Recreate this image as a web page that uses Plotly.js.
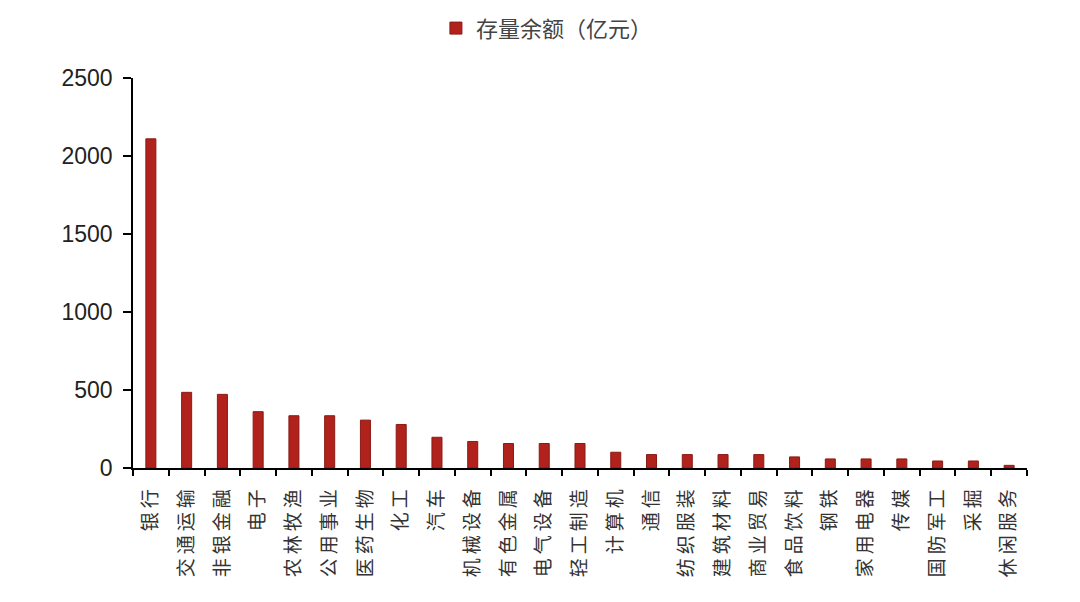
<!DOCTYPE html>
<html>
<head>
<meta charset="utf-8">
<script src="https://cdn.plot.ly/plotly-3.0.1.min.js"></script>
<style>
  html, body { margin: 0; padding: 0; background: #fff; }
  #chart { width: 1080px; height: 602px; }
  /* 原图中文字间距较宽 */
  #chart .xtick text { letter-spacing: 4px; }
</style>
</head>
<body>
<div id="chart"></div>
<script>
// 各行业存量余额（亿元）
const industries = ["银行", "交通运输", "非银金融", "电子", "农林牧渔", "公用事业", "医药生物", "化工", "汽车",
  "机械设备", "有色金属", "电气设备", "轻工制造", "计算机", "通信", "纺织服装", "建筑材料", "商业贸易",
  "食品饮料", "钢铁", "家用电器", "传媒", "国防军工", "采掘", "休闲服务"];
const balance = [2110, 485, 472, 361, 335, 335, 307, 279, 197,
  170, 157, 157, 157, 101, 86, 86, 86, 86,
  71, 58, 58, 58, 45, 45, 17];
const seriesName = "存量余额（亿元）";

const trace = {
  x: industries,
  y: balance,
  type: "bar",
  name: seriesName,
  marker: { color: "#B0221B", line: { color: "#8A1A14", width: 1 } },
  hoverinfo: "x+y"
};

const layout = {
  width: 1080,
  height: 602,
  margin: { l: 133, r: 53, t: 78, b: 134 },
  paper_bgcolor: "#fff",
  plot_bgcolor: "#fff",
  bargap: 0.72,
  showlegend: true,
  legend: {
    orientation: "h",
    x: 0.463, xanchor: "center",
    yref: "container",
    y: 0.953, yanchor: "middle",
    font: { family: "Noto Sans CJK SC", size: 22, color: "#444" },
    itemwidth: 30
  },
  xaxis: {
    showline: true, linecolor: "#000", linewidth: 1.5,
    ticks: "outside", tickson: "boundaries", ticklen: 6, tickcolor: "#000", tickwidth: 1.5,
    tickangle: -90,
    ticklabelstandoff: 8,
    tickfont: { family: "Noto Sans CJK SC", size: 19, color: "#333" },
    showgrid: false, zeroline: false
  },
  yaxis: {
    range: [0, 2500], dtick: 500,
    showline: true, linecolor: "#000", linewidth: 1.5,
    ticks: "outside", ticklen: 8, tickcolor: "#000", tickwidth: 1.5,
    ticklabelstandoff: 6,
    tickfont: { family: "Liberation Sans, Arial", size: 23, color: "#222" },
    showgrid: false, zeroline: false
  }
};

Plotly.newPlot("chart", [trace], layout, { displayModeBar: false, responsive: false });
</script>
</body>
</html>
